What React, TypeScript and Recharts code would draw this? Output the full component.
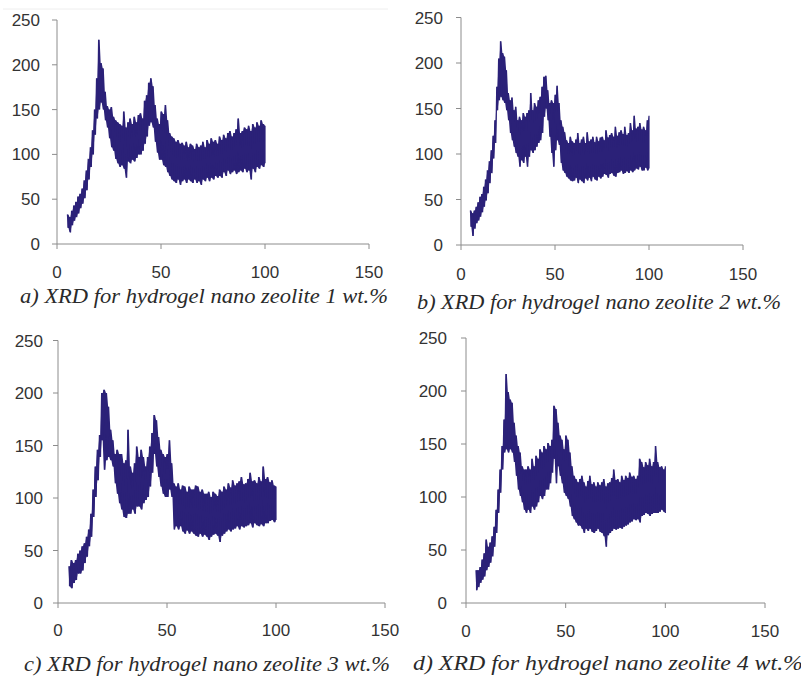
import React from 'react';
import { ComposedChart, Line, Area, XAxis, YAxis } from 'recharts';

// 2-theta grid starts at 5 degrees, one envelope pair (top / bottom of the noisy trace) per degree up to 100
const startAngle = 5;
const xTicks = [0, 50, 100, 150];
const yTicks = [0, 50, 100, 150, 200, 250];

const captions = [
  'a) XRD for hydrogel nano zeolite 1 wt.%',
  'b) XRD for hydrogel nano zeolite 2 wt.%',
  'c) XRD for hydrogel nano zeolite 3 wt.%',
  'd) XRD for hydrogel nano zeolite 4 wt.%',
];

// Panel a (1 wt.%)
const hiA = [33,30,37,43,47,53,56,62,71,82, 95,108,127,150,185,228,202,196,170,154, 150,153,142,138,136,134,132,148,130,136, 140,134,142,136,144,146,140,160,166,180, 185,176,155,140,134,148,145,155,138,124, 120,118,114,116,112,113,110,114,108,112, 110,106,112,108,110,114,108,116,112,118, 114,116,112,120,116,122,118,124,126,120, 124,128,140,124,126,130,128,132,126,134, 130,136,132,138,134,132];
const loA = [18,13,21,26,30,34,40,45,51,60, 72,86,100,122,140,150,158,150,138,130, 118,108,104,95,90,86,88,84,74,92, 90,94,92,96,100,100,104,112,120,132, 136,130,114,102,94,94,88,86,80,76, 72,70,68,72,66,70,72,68,72,70, 68,72,68,70,66,72,70,74,70,74, 72,76,74,76,74,80,76,82,78,80, 82,78,80,82,80,84,80,82,72,84, 80,86,84,88,86,90];

// Panel b (2 wt.%)
const hiB = [38,35,38,42,47,53,56,64,72,82, 92,104,120,137,174,205,224,211,207,192, 167,159,162,148,152,137,141,137,145,141, 145,148,167,148,156,152,159,163,174,185, 186,170,156,159,156,165,175,156,137,130, 124,115,112,119,114,112,116,123,112,116, 119,112,124,114,116,119,113,119,114,118, 119,115,126,118,121,123,119,130,120,124, 126,122,130,121,123,134,126,142,128,130, 134,127,130,126,137,142];
const loB = [20,10,18,24,27,31,36,42,49,57, 68,79,95,112,148,159,163,159,156,148, 137,123,115,108,101,97,86,93,90,97, 86,97,104,101,104,108,112,115,123,141, 150,137,119,101,86,104,115,110,90,82, 79,75,73,71,70,71,74,68,72,70, 68,73,71,74,70,75,72,71,75,73, 75,78,77,74,78,79,76,75,79,80, 82,78,79,81,79,82,80,82,84,83, 86,82,82,85,82,84];

// Panel c (3 wt.%)
const hiC = [35,41,38,41,47,50,54,57,63,70, 85,108,130,146,160,200,203,200,187,165, 155,142,146,142,142,133,136,165,130,124, 133,149,139,146,139,130,139,149,162,179, 174,158,146,142,139,142,155,133,114,111, 114,108,112,111,106,111,108,108,112,111, 106,108,104,104,106,101,106,104,102,108, 106,111,108,114,110,117,112,114,116,120, 113,114,118,124,116,117,114,120,116,130, 118,120,115,117,112,111];
const loC = [16,14,19,22,28,28,31,38,44,54, 63,82,101,117,139,155,127,136,139,136, 130,114,104,95,89,82,81,85,85,89, 85,92,92,89,95,98,101,111,124,142, 130,120,111,104,101,101,108,101,70,73, 70,73,68,66,69,66,68,66,64,63, 66,63,65,63,60,63,65,66,64,58, 64,66,68,70,68,70,71,73,70,73, 72,73,74,76,72,76,74,73,75,73, 76,76,78,79,77,79];

// Panel d (4 wt.%)
const hiD = [31,31,34,41,47,60,53,57,63,72, 88,107,126,148,173,216,199,192,189,170, 158,148,142,129,126,126,129,126,136,129, 139,136,145,142,148,145,151,148,154,186, 183,170,158,154,145,158,154,142,129,120, 117,114,117,120,114,110,115,120,112,114, 110,114,111,114,117,110,113,114,118,126, 116,117,114,120,116,120,118,123,119,120, 117,120,136,133,128,133,130,136,129,133, 148,133,128,129,126,129];
const loD = [12,15,19,22,25,31,34,38,44,53, 66,85,104,126,142,145,142,145,142,133, 120,107,101,95,88,85,88,85,91,88, 91,95,101,98,101,107,107,113,123,136, 113,129,120,113,104,101,98,91,82,79, 76,73,73,70,66,70,68,70,67,66, 68,70,67,66,63,53,64,66,68,70, 69,70,71,70,72,73,74,76,77,79, 78,79,76,82,83,85,84,82,84,85, 85,85,86,88,86,85];

type Pt = { x: number; y: number; band: [number, number] };

function buildSeries(hi: number[], lo: number[]): Pt[] {
  const pts: Pt[] = [];
  hi.forEach((h, i) => {
    const x = startAngle + i;
    const band: [number, number] = [lo[i], h];
    pts.push({ x, y: h, band });
    pts.push({ x: i === hi.length - 1 ? x : x + 0.5, y: lo[i], band });
  });
  return pts;
}

const AXIS = '#8c8c8c';
const TICK_TEXT = '#333333';
const LINE = '#2b2178';

type PanelProps = {
  data: Pt[];
  left: number;
  top: number;
  width: number;
  height: number;
  yAxisWidth: number;
  margin: { top: number; right: number; bottom: number; left: number };
  yTickMargin: number;
  xTickMargin: number;
};

function Panel(p: PanelProps) {
  const tickStyle = { fill: TICK_TEXT, fontSize: 17, fontFamily: 'Liberation Sans, Arial, sans-serif' };
  return (
    <div style={{ position: 'absolute', left: p.left, top: p.top, width: p.width, height: p.height }}>
      <ComposedChart width={p.width} height={p.height} data={p.data} margin={p.margin}>
        <XAxis
          type="number"
          dataKey="x"
          domain={[0, 150]}
          ticks={xTicks}
          height={35}
          stroke={AXIS}
          tickLine={{ stroke: AXIS }}
          tickSize={5}
          tickMargin={p.xTickMargin}
          tick={tickStyle}
          interval={0}
        />
        <YAxis
          type="number"
          domain={[0, 250]}
          ticks={yTicks}
          width={p.yAxisWidth}
          stroke={AXIS}
          tickLine={{ stroke: AXIS }}
          tickSize={5}
          tickMargin={p.yTickMargin}
          tick={tickStyle}
          interval={0}
        />
        <Area
          type="linear"
          dataKey="band"
          stroke="none"
          fill={LINE}
          fillOpacity={1}
          activeDot={false}
          isAnimationActive={false}
        />
        <Line
          type="linear"
          dataKey="y"
          stroke={LINE}
          strokeWidth={1.2}
          dot={false}
          activeDot={false}
          isAnimationActive={false}
        />
      </ComposedChart>
    </div>
  );
}

export default function App() {
  const dA = buildSeries(hiA, loA);
  const dB = buildSeries(hiB, loB);
  const dC = buildSeries(hiC, loC);
  const dD = buildSeries(hiD, loD);
  return (
    <div style={{ position: 'absolute', left: 0, top: 0, width: 801, height: 679, background: '#ffffff', overflow: 'hidden' }}>
      <Panel data={dA} left={0} top={0} width={400} height={330} yAxisWidth={57}
        margin={{ top: 20, right: 31, bottom: 51, left: 0 }} yTickMargin={12} xTickMargin={17} />
      <Panel data={dB} left={400} top={0} width={401} height={330} yAxisWidth={61}
        margin={{ top: 17.5, right: 58, bottom: 50, left: 0 }} yTickMargin={13} xTickMargin={18} />
      <Panel data={dC} left={0} top={330} width={400} height={349} yAxisWidth={58}
        margin={{ top: 10.5, right: 15, bottom: 41, left: 0 }} yTickMargin={10} xTickMargin={16} />
      <Panel data={dD} left={400} top={330} width={401} height={349} yAxisWidth={66}
        margin={{ top: 8, right: 36, bottom: 41, left: 0 }} yTickMargin={14} xTickMargin={17} />
      <svg width={801} height={679} style={{ position: 'absolute', left: 0, top: 0, pointerEvents: 'none' }}>
        <line x1={3} y1={9} x2={388} y2={9} stroke="#eeeeee" strokeWidth={1} />
        <g fontFamily="Liberation Serif, Times New Roman, serif" fontStyle="italic" fontSize={22} fill="#2a2a2a">
          <text x={20} y={303} textLength={368} lengthAdjust="spacingAndGlyphs">{captions[0]}</text>
          <text x={417} y={309} textLength={364} lengthAdjust="spacingAndGlyphs">{captions[1]}</text>
          <text x={24} y={671} textLength={366} lengthAdjust="spacingAndGlyphs">{captions[2]}</text>
          <text x={413} y={670} textLength={390} lengthAdjust="spacingAndGlyphs">{captions[3]}</text>
        </g>
      </svg>
    </div>
  );
}
